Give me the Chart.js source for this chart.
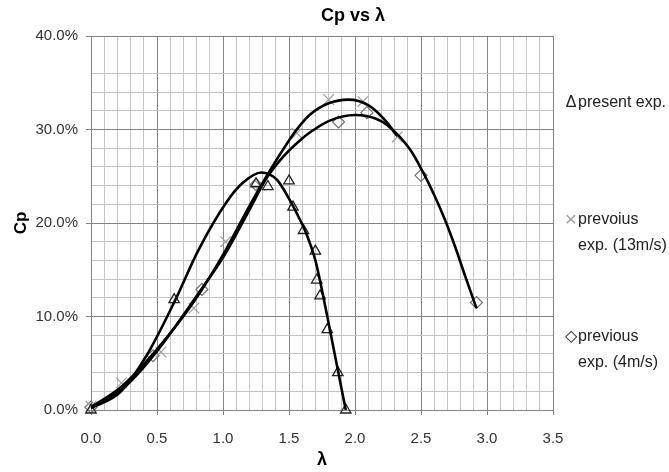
<!DOCTYPE html>
<html>
<head>
<meta charset="utf-8">
<script src="https://cdn.jsdelivr.net/npm/chart.js@4.4.0/dist/chart.umd.min.js"></script>
<style>
html, body { margin: 0; padding: 0; background: #fff; }
#wrap { position: relative; width: 669px; height: 472px; }
</style>
</head>
<body>
<div id="wrap"><canvas id="chart"></canvas></div>
<script>
// present exp. (triangles)
const presentLambda = [0.00, 0.63, 1.25, 1.34, 1.50, 1.53, 1.61, 1.70, 1.71, 1.735, 1.79, 1.87, 1.93];
const presentCp     = [0.0, 11.8, 24.2, 23.9, 24.5, 21.7, 19.2, 17.0, 13.9, 12.2, 8.6, 4.0, 0.0];
// prevoius exp. (13m/s) (crosses)
const exp13Lambda = [0.00, 0.23, 0.53, 0.78, 1.02, 1.28, 1.56, 1.80, 2.06, 2.32];
const exp13Cp     = [0.4, 2.9, 6.2, 10.9, 18.0, 24.0, 29.6, 33.2, 33.0, 29.2];
// previous exp. (4m/s) (diamonds)
const exp4Lambda = [0.00, 0.47, 0.84, 1.25, 1.875, 2.09, 2.50, 2.92];
const exp4Cp     = [0.3, 5.8, 12.9, 24.1, 30.8, 31.8, 25.1, 11.5];

// trend curves
const presentFitLambda = [0.00, 0.22, 0.42, 0.64, 0.81, 1.03, 1.15, 1.29, 1.41, 1.50, 1.56, 1.63, 1.70, 1.75, 1.80, 1.86, 1.93];
const presentFitCp     = [0.2, 1.9, 5.8, 11.8, 17.0, 22.3, 24.3, 25.4, 24.6, 22.6, 21.0, 18.9, 16.0, 12.8, 9.3, 5.0, 0.0];
const exp13FitLambda = [0.00, 0.23, 0.50, 0.78, 1.00, 1.20, 1.33, 1.48, 1.57, 1.66, 1.80, 1.95, 2.10, 2.24, 2.32];
const exp13FitCp     = [0.3, 2.5, 6.5, 11.6, 16.6, 21.8, 25.0, 28.4, 30.2, 31.6, 32.8, 33.2, 32.6, 30.8, 29.3];
const exp4FitLambda = [0.00, 0.25, 0.50, 0.84, 1.00, 1.20, 1.33, 1.45, 1.58, 1.66, 1.80, 2.00, 2.15, 2.25, 2.42, 2.52, 2.60, 2.68, 2.76, 2.84, 2.92];
const exp4FitCp     = [0.3, 2.4, 6.3, 13.0, 16.3, 21.4, 24.8, 27.0, 28.8, 29.7, 30.9, 31.55, 31.2, 30.4, 27.8, 25.3, 23.0, 20.4, 17.4, 14.1, 10.9];

const titleText = 'Cp vs λ';
const xTitle = 'λ';
const yTitle = 'Cp';
const legendSymbols = ['Δ', '×', '◇'];
const legendLines = [['present exp.'], ['prevoius', 'exp. (13m/s)'], ['previous', 'exp. (4m/s)']];

const SANS = "'Liberation Sans', Arial, sans-serif";
const MAJOR = '#858585';
const MINOR = '#c4c4c4';
const NONE = 'rgba(0,0,0,0)';

const pts = (xs, ys) => xs.map((x, i) => ({ x, y: ys[i] }));
const isMajorX = v => Math.round(v * 10) % 5 === 0;
const isMajorY = v => Math.round(v) % 10 === 0;

function curve(xs, ys) {
	return {
		data: pts(xs, ys),
		showLine: true,
		borderColor: '#000',
		borderWidth: 2.6,
		pointRadius: 0,
		cubicInterpolationMode: 'monotone',
		fill: false
	};
}

const overlay = {
	id: 'overlay',
	afterDraw(chart) {
		const ctx = chart.ctx;
		ctx.save();
		ctx.fillStyle = '#000';
		ctx.textAlign = 'center';
		ctx.textBaseline = 'middle';
		ctx.font = 'bold 18px ' + SANS;
		ctx.fillText(titleText, 353, 16);

		// legend
		const rowY = [103, 220, 337];
		legendLines.forEach((lines, i) => {
			ctx.font = (i === 1 ? '21px ' : '16px ') + SANS;
			ctx.fillStyle = i === 1 ? '#a0a0a0' : '#222';
			ctx.textAlign = 'center';
			ctx.fillText(legendSymbols[i], 571, rowY[i]);
			ctx.font = '16px ' + SANS;
			ctx.textAlign = 'left';
			ctx.fillStyle = '#222';
			lines.forEach((t, j) => ctx.fillText(t, 578, rowY[i] + j * 26));
		});
		ctx.restore();
	}
};

new Chart(document.getElementById('chart'), {
	type: 'scatter',
	data: {
		datasets: [
			curve(presentFitLambda, presentFitCp),
			curve(exp13FitLambda, exp13FitCp),
			curve(exp4FitLambda, exp4FitCp),
			{
				data: pts(presentLambda, presentCp),
				pointStyle: 'triangle',
				pointRadius: 6,
				borderColor: '#222',
				backgroundColor: NONE,
				pointBorderWidth: 1.3,
				clip: false
			},
			{
				data: pts(exp13Lambda, exp13Cp),
				pointStyle: 'crossRot',
				pointRadius: 7.5,
				borderColor: '#a0a0a0',
				pointBorderWidth: 1.2,
				clip: false
			},
			{
				data: pts(exp4Lambda, exp4Cp),
				pointStyle: 'rectRot',
				pointRadius: 6,
				borderColor: '#707070',
				backgroundColor: NONE,
				pointBorderWidth: 1.2,
				clip: false
			}
		]
	},
	options: {
		responsive: true,
		maintainAspectRatio: false,
		animation: false,
		layout: { padding: { left: 0, top: 36, right: 116, bottom: 0 } },
		plugins: {
			legend: { display: false },
			tooltip: { enabled: false }
		},
		scales: {
			x: {
				type: 'linear',
				min: 0,
				max: 3.5,
				afterFit: s => { s.height = 62; },
				ticks: {
					stepSize: 0.1,
					autoSkip: false,
					maxRotation: 0,
					padding: 15,
					color: '#333',
					font: { family: SANS, size: 15 },
					callback: v => (isMajorX(v) ? v.toFixed(1) : '')
				},
				grid: {
					tickLength: 5,
					color: c => (isMajorX(c.tick.value) ? MAJOR : MINOR),
					tickColor: c => (isMajorX(c.tick.value) ? MAJOR : NONE)
				},
				border: { color: MAJOR },
				title: {
					display: true,
					text: xTitle,
					color: '#000',
					font: { family: SANS, size: 18, weight: 'bold' },
					padding: { top: 0, bottom: 1 }
				}
			},
			y: {
				min: 0,
				max: 40,
				afterFit: s => { s.width = 91; },
				ticks: {
					stepSize: 2,
					autoSkip: false,
					padding: 8,
					color: '#333',
					font: { family: SANS, size: 15 },
					callback: v => (isMajorY(v) ? v.toFixed(1) + '%' : '')
				},
				grid: {
					tickLength: 5,
					color: c => (Math.round(c.tick.value) === 38 ? NONE : (isMajorY(c.tick.value) ? MAJOR : MINOR)),
					tickColor: c => (isMajorY(c.tick.value) ? MAJOR : NONE)
				},
				border: { color: MAJOR },
				title: {
					display: true,
					text: yTitle,
					color: '#000',
					font: { family: SANS, size: 17, weight: 'bold' },
					padding: { top: 11, bottom: 0 }
				}
			}
		}
	},
	plugins: [overlay]
});
</script>
</body>
</html>
